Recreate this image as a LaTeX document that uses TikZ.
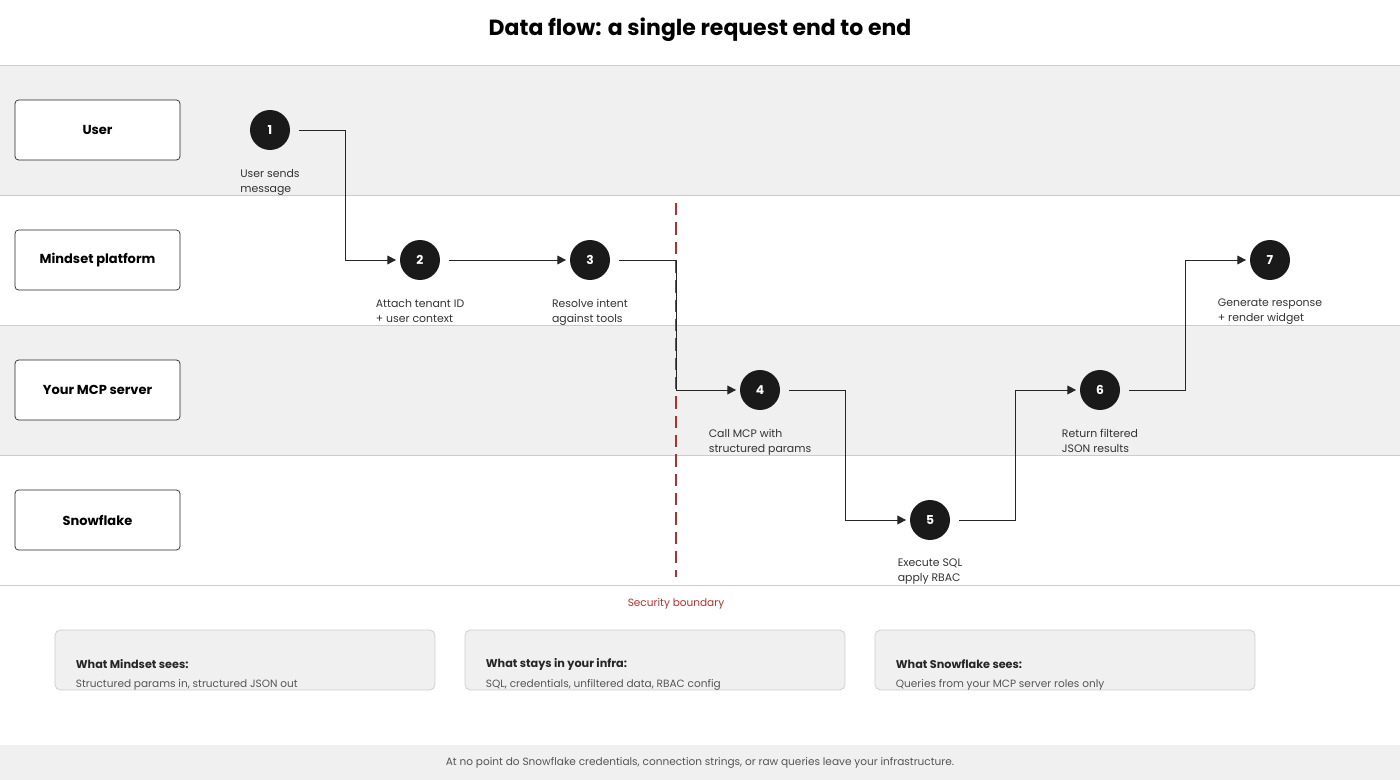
\documentclass[tikz,border=0pt]{standalone}
\usepackage{fontspec}
\setmainfont{Poppins}
\usetikzlibrary{positioning,arrows.meta}

\definecolor{lanegray}{HTML}{F0F0F0}
\definecolor{linegray}{HTML}{CCCCCC}
\definecolor{dotfill}{HTML}{1A1A1A}
\definecolor{bndred}{HTML}{B03030}
\definecolor{txtgray}{HTML}{555555}

\tikzset{
  actor/.style={draw=black!85, fill=white, rounded corners=2pt, minimum width=3.3cm, minimum height=1.2cm, font=\fontsize{7.4}{9}\selectfont\bfseries},
  stepdot/.style={circle, fill=dotfill, minimum size=0.8cm, inner sep=0pt, text=white, font=\fontsize{7}{8}\selectfont\bfseries},
  steplabel/.style={align=left, anchor=north, font=\fontsize{6.2}{8.5}\selectfont, text=black!80},
  flow/.style={draw=black!85, line width=0.5pt, -{Triangle[length=5pt,width=5pt]}},
  infobox/.style={draw=linegray, fill=lanegray, rounded corners=3pt, minimum width=7.6cm, minimum height=1.2cm}
}

\begin{document}
\begin{tikzpicture}[x=0.02cm,y=-0.02cm]
\useasboundingbox (0,0) rectangle (1400,780);
% lanes
\fill[lanegray] (0,65) rectangle (1400,195);
\fill[lanegray] (0,325) rectangle (1400,455);
\fill[lanegray] (0,745) rectangle (1400,780);
\foreach \y in {65,195,325,455,585}
  \draw[linegray, line width=0.5pt] (0,\y) -- (1400,\y);

\node[font=\fontsize{12.5}{14}\selectfont\bfseries] (title) at (700,30) {Data flow: a single request end to end};

% actors
\node[actor] (user) at (97.5,130) {User};
\node[actor] (mindset) at (97.5,260) {Mindset platform};
\node[actor] (mcp) at (97.5,390) {Your MCP server};
\node[actor] (snow) at (97.5,520) {Snowflake};

% boundary
\coordinate (bTop) at (676,203);
\coordinate (bBot) at (676,577);
\draw[bndred, dashed, line width=0.8pt, dash pattern=on 7pt off 4pt] (bTop) -- (bBot);
\node[text=bndred, font=\fontsize{6}{7}\selectfont] (bnd) at (676,604) {Security boundary};

% steps
\node[stepdot] (s1) at (270,130) {1};
\node[stepdot] (s2) at (420,260) {2};
\node[stepdot] (s3) at (590,260) {3};
\node[stepdot] (s4) at (760,390) {4};
\node[stepdot] (s5) at (930,520) {5};
\node[stepdot] (s6) at (1100,390) {6};
\node[stepdot] (s7) at (1270,260) {7};

\node[steplabel] (l1) at (270,163) {User sends\\message};
\node[steplabel] (l2) at (420,293) {Attach tenant ID\\+ user context};
\node[steplabel] (l3) at (590,293) {Resolve intent\\against tools};
\node[steplabel] (l4) at (760,423) {Call MCP with\\structured params};
\node[steplabel] (l5) at (930,553) {Execute SQL\\apply RBAC};
\node[steplabel] (l6) at (1100,423) {Return filtered\\JSON results};
\node[steplabel] (l7) at (1270,293) {Generate response\\+ render widget};

% connectors
\draw[flow, shorten <=5pt, shorten >=2pt] (s1.east) -| (345,260) -- (s2.west);
\draw[flow, shorten <=5pt, shorten >=2pt] (s2.east) -- (s3.west);
\draw[flow, shorten <=5pt, shorten >=2pt] (s3.east) -| (676,390) -- (s4.west);
\draw[flow, shorten <=5pt, shorten >=2pt] (s4.east) -| (845,520) -- (s5.west);
\draw[flow, shorten <=5pt, shorten >=2pt] (s5.east) -| (1015,390) -- (s6.west);
\draw[flow, shorten <=5pt, shorten >=2pt] (s6.east) -| (1185,260) -- (s7.west);

% info boxes
\foreach \x/\name/\head/\body in {245/ib1/What Mindset sees:/{Structured params in, structured JSON out},
  655/ib2/What stays in your infra:/{SQL, credentials, unfiltered data, RBAC config},
  1065/ib3/What Snowflake sees:/{Queries from your MCP server roles only}} {
  \node[infobox] (\name) at (\x,660) {};
  \node[anchor=west, font=\fontsize{6.4}{8}\selectfont\bfseries, text=black!85] at ([xshift=0.3cm,yshift=-0.08cm]\name.west) {\head};
  \node[anchor=west, font=\fontsize{6}{8}\selectfont, text=txtgray] at ([xshift=0.3cm,yshift=-0.5cm]\name.west) {\body};
}

\node[font=\fontsize{6}{7}\selectfont, text=txtgray] (foot) at (700,763) {At no point do Snowflake credentials, connection strings, or raw queries leave your infrastructure.};
\end{tikzpicture}
\end{document}
